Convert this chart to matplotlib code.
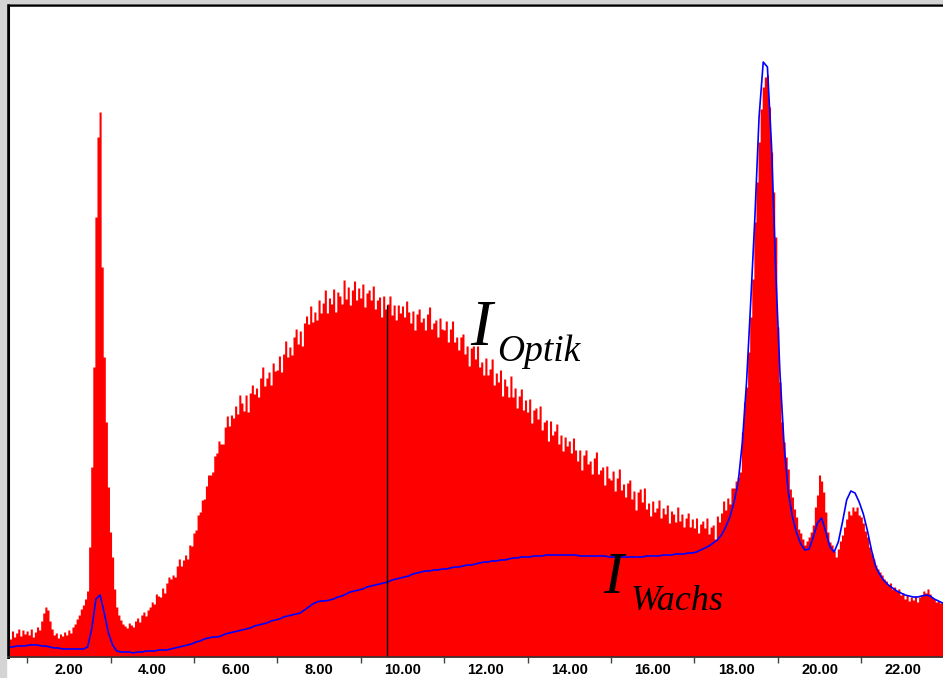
import numpy as np
import matplotlib
matplotlib.use("Agg")
import matplotlib.pyplot as plt
from matplotlib.patches import Rectangle

# Intensitaet der Optik (rot), Schritt 0.05, beginnend bei 0.55
optik_x0 = 0.55
optik_step = 0.05
optik = [
    22, 18, 26, 20, 24, 28, 21, 27, 23,
    26, 22, 28, 20, 25, 30, 27, 36, 44, 50, 47, 36, 28, 22, 24, 19, 23, 21, 25, 22,
    27, 24, 30, 33, 38, 42, 48, 52, 58, 66, 110, 190, 290, 440, 520, 545, 390, 300, 235, 170,
    125, 100, 68, 50, 42, 37, 33, 31, 29, 34, 32, 30, 36, 39, 35, 42, 45, 41, 47, 50,
    55, 53, 63, 61, 60, 69, 64, 74, 80, 78, 82, 80, 91, 98, 91, 97, 102, 98, 112, 111,
    124, 127, 142, 145, 157, 158, 171, 182, 182, 185, 201, 204, 216, 213, 213, 230, 241, 231, 242, 239,
    251, 243, 262, 254, 246, 262, 245, 264, 272, 263, 269, 260, 279, 290, 271, 279, 285, 272, 294, 286,
    287, 301, 285, 303, 316, 300, 310, 302, 320, 328, 313, 326, 311, 334, 341, 333, 351, 335, 345, 337,
    357, 344, 354, 367, 344, 359, 353, 368, 345, 365, 361, 353, 377, 358, 370, 352, 367, 376, 357, 369,
    359, 373, 350, 364, 367, 357, 371, 348, 357, 360, 340, 361, 348, 353, 361, 342, 352, 337, 352, 344,
    351, 340, 356, 345, 334, 346, 327, 343, 348, 335, 339, 327, 343, 350, 328, 334, 337, 320, 339, 328,
    327, 336, 315, 328, 336, 315, 320, 307, 320, 323, 303, 311, 291, 309, 311, 298, 311, 290, 295, 282,
    299, 282, 288, 298, 272, 284, 275, 287, 261, 278, 271, 260, 281, 260, 269, 249, 261, 268, 247, 257,
    245, 258, 234, 247, 249, 238, 251, 227, 235, 237, 216, 236, 222, 226, 233, 213, 222, 206, 220, 211,
    216, 204, 219, 207, 196, 207, 187, 202, 207, 193, 196, 183, 199, 205, 183, 187, 190, 172, 191, 179,
    177, 186, 166, 179, 188, 167, 173, 160, 174, 177, 158, 166, 147, 165, 168, 155, 169, 148, 154, 141,
    156, 145, 149, 157, 139, 149, 143, 152, 134, 146, 143, 135, 150, 136, 143, 130, 139, 144, 130, 138,
    129, 139, 124, 133, 136, 129, 139, 123, 130, 132, 118, 141, 135, 144, 156, 147, 159, 153, 169, 169,
    176, 180, 185, 225, 255, 270, 305, 340, 378, 435, 475, 515, 548, 570, 580, 582, 550, 505, 465, 420,
    330, 275, 235, 215, 200, 188, 168, 160, 148, 140, 128, 124, 118, 112, 116, 120, 125, 132, 150, 162,
    182, 176, 165, 145, 125, 115, 112, 106, 100, 108, 116, 122, 130, 138, 146, 142, 150, 146, 150, 142,
    140, 134, 126, 120, 110, 104, 98, 92, 88, 85, 82, 78, 76, 72, 74, 68, 70, 66, 68, 62,
    64, 58, 62, 56, 60, 57, 61, 55, 60, 62, 66, 64, 68, 63, 60, 58, 55, 56, 54, 55,
]

# Intensitaet Wachs (blau), Schritt 0.1, beginnend bei 0.55
wachs_x0 = 0.55
wachs_step = 0.1
wachs = [
    10, 10, 11, 11, 11,
    12, 12, 12, 11, 11, 10, 9, 9, 8, 8,
    8, 8, 8, 8, 10, 28, 58, 62, 44, 24,
    12, 6, 5, 5, 5, 4, 5, 5, 6, 6,
    6, 7, 7, 7, 8, 9, 10, 11, 12, 13,
    15, 16, 18, 19, 20, 20, 21, 23, 24, 25,
    26, 27, 28, 29, 31, 32, 33, 34, 36, 37,
    38, 40, 41, 42, 43, 44, 47, 50, 53, 55,
    56, 56, 57, 58, 60, 61, 63, 65, 66, 67,
    68, 70, 71, 72, 73, 74, 75, 77, 78, 79,
    80, 81, 83, 84, 85, 86, 86, 87, 87, 88,
    88, 89, 90, 90, 91, 92, 92, 93, 94, 95,
    95, 96, 96, 97, 97, 98, 99, 99, 100, 100,
    100, 101, 101, 101, 102, 102, 102, 102, 102, 102,
    102, 102, 101, 101, 101, 101, 101, 101, 101, 100,
    100, 100, 100, 100, 100, 100, 100, 100, 101, 101,
    101, 101, 102, 102, 102, 103, 103, 103, 104, 104,
    105, 107, 109, 111, 114, 117, 122, 130, 140, 155,
    175, 215, 275, 355, 440, 540, 595, 590, 510, 385,
    285, 212, 165, 140, 124, 113, 107, 108, 120, 134,
    139, 125, 110, 105, 115, 135, 157, 166, 164, 155,
    143, 126, 106, 90, 82, 76, 72, 69, 66, 64,
    62, 61, 60, 60, 61, 62, 61, 58, 56, 54,
]

tick_pos = [2, 4, 6, 8, 10, 12, 14, 16, 18, 20, 22]
tick_txt = ["2.00", "4.00", "6.00", "8.00", "10.00", "12.00", "14.00",
            "16.00", "18.00", "20.00", "22.00"]
minor_pos = [1, 3, 5, 7, 9, 11, 13, 15, 17, 19, 21]
marker_x = 9.64
marker_h = 352

x_opt = optik_x0 + optik_step * np.arange(len(optik))
x_wax = wachs_x0 + wachs_step * np.arange(len(wachs))

fig = plt.figure(figsize=(9.43, 6.78), dpi=100)
fig.patches.append(Rectangle((0, 0), 6 / 943, 1, transform=fig.transFigure,
                             color="#d4d4d4", zorder=0))
fig.patches.append(Rectangle((0, 1 - 3 / 678), 1, 3 / 678, transform=fig.transFigure,
                             color="#d4d4d4", zorder=0))

ax = fig.add_axes([8 / 943, 21 / 678, 1 - 8 / 943, 652 / 678])
ax.fill_between(x_opt, optik, step="mid", color="#ff0000", lw=0)
ax.plot(x_wax, wachs, color="#0000ff", lw=1.2)
ax.vlines(marker_x, 0, marker_h, color="black", lw=1)

ax.set_xlim(0.542, 22.96)
ax.set_ylim(0, 652)
ax.set_yticks([])
ax.set_xticks(tick_pos)
ax.set_xticklabels(tick_txt, fontfamily="Liberation Sans", fontweight="bold", fontsize=10.5)
ax.set_xticks(minor_pos, minor=True)
ax.tick_params(axis="x", which="major", length=0, pad=4)
ax.tick_params(axis="x", which="minor", length=4, width=1, color="#444444", direction="out")

ax.spines["right"].set_visible(False)
ax.spines["left"].set_linewidth(2.2)
ax.spines["top"].set_linewidth(1.8)
ax.spines["bottom"].set_linewidth(1.2)
ax.spines["bottom"].set_color("#333333")

serif = "Liberation Serif"
ax.text(11.62, 312, "I", fontfamily=serif, style="italic", fontsize=47, va="baseline")
ax.text(12.27, 296, "Optik", fontfamily=serif, style="italic", fontsize=27, va="baseline")
ax.text(14.81, 64, "I", fontfamily=serif, style="italic", fontsize=43, va="baseline")
ax.text(15.46, 47, "Wachs", fontfamily=serif, style="italic", fontsize=26, va="baseline")

fig.savefig("out.png", dpi=100)
